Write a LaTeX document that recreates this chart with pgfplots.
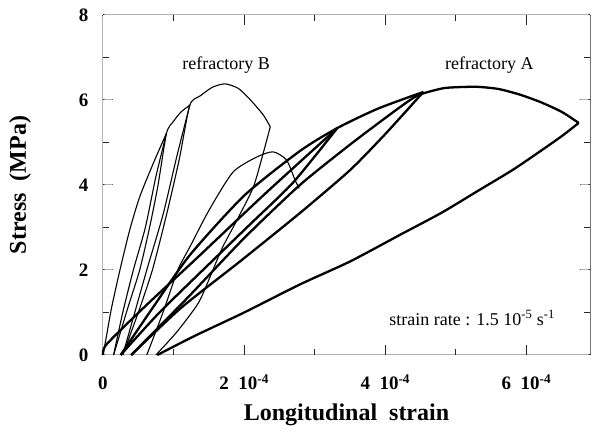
\documentclass[border=0pt]{standalone}
\usepackage{pgfplots}
\pgfplotsset{compat=1.18}
\usepackage{fontspec}
\setmainfont{Liberation Serif}
\usetikzlibrary{calc}

\begin{document}
\begin{tikzpicture}
\begin{axis}[
  scale only axis, width=487pt, height=340pt,
  xmin=0, xmax=6.9, ymin=0, ymax=8,
  xtick={0,2,4,6},
  xticklabels={0, 2\ \ 10\textsuperscript{-4}, 4\ \ 10\textsuperscript{-4}, 6\ \ 10\textsuperscript{-4}},
  ytick={0,2,4,6,8},
  yticklabels={0,2,4,6,8},
  major tick length=0pt,
  axis line style={draw=none},
  tick style={draw=none},
  ticklabel style={font=\bfseries\fontsize{19}{19}\selectfont},
  xticklabel style={anchor=base, yshift=-35pt},
  yticklabel style={anchor=east, xshift=-11pt},
  xlabel={Longitudinal\ \ strain},
  ylabel={Stress\ \ (MPa)},
  label style={font=\bfseries\fontsize{24}{24}\selectfont},
  x label style={at={(axis description cs:0.5,0)}, anchor=center, yshift=-60pt},
  y label style={at={(axis description cs:0,0.5)}, anchor=center, rotate=0, yshift=83pt},
  clip=false,
  unbounded coords=jump,
]
% ---------- frame (drawn as smooth paths) ----------
\addplot[black!85, line width=1pt, smooth] coordinates {(0,0) (3.45,0) (6.9,0)};
\addplot[black!85, line width=1pt, smooth] coordinates {(6.9,0) (6.9,4) (6.9,8)};
\addplot[black!85, line width=1pt, smooth] coordinates {(6.9,8) (3.45,8) (0,8)};
\addplot[black!85, line width=1pt, smooth] coordinates {(0,8) (0,4) (0,0)};
% ---------- ticks ----------
\addplot[black!85, line width=1pt, smooth] coordinates {
 (2,0)(2,0.12)(2,0.235) (2,nan) (4,0)(4,0.12)(4,0.235) (4,nan) (6,0)(6,0.12)(6,0.235) (6,nan)
 (1,0)(1,0.07)(1,0.141) (1,nan) (3,0)(3,0.07)(3,0.141) (3,nan) (5,0)(5,0.07)(5,0.141) (5,nan)
 (2,8)(2,7.88)(2,7.765) (2,nan) (4,8)(4,7.88)(4,7.765) (4,nan) (6,8)(6,7.88)(6,7.765) (6,nan)
 (1,8)(1,7.93)(1,7.859) (1,nan) (3,8)(3,7.93)(3,7.859) (3,nan) (5,8)(5,7.93)(5,7.859) (5,nan)
 (0,2)(0.07,2)(0.142,2) (0,nan) (0,4)(0.07,4)(0.142,4) (0,nan) (0,6)(0.07,6)(0.142,6) (0,nan)
 (0,1)(0.04,1)(0.085,1) (0,nan) (0,3)(0.04,3)(0.085,3) (0,nan) (0,5)(0.04,5)(0.085,5) (0,nan) (0,7)(0.04,7)(0.085,7) (0,nan)
 (6.9,2)(6.83,2)(6.758,2) (6.9,nan) (6.9,4)(6.83,4)(6.758,4) (6.9,nan) (6.9,6)(6.83,6)(6.758,6) (6.9,nan)
 (6.9,1)(6.86,1)(6.815,1) (6.9,nan) (6.9,3)(6.86,3)(6.815,3) (6.9,nan) (6.9,5)(6.86,5)(6.815,5) (6.9,nan) (6.9,7)(6.86,7)(6.815,7)};
% ---------- refractory B (thin) ----------
\addplot[black, line width=1.1pt, smooth, tension=0.4] coordinates {
 (0,0) (0.05,0.45) (0.12,1.1) (0.24,2.0) (0.38,2.95) (0.52,3.72) (0.71,4.5) (0.9,5.22)};
\addplot[black, line width=1.1pt, smooth, tension=0.4] coordinates {
 (0.9,5.22) (0.75,4.2) (0.6,3.0) (0.43,2.0) (0.28,1.0) (0.15,0)};
\addplot[black, line width=1.1pt, smooth, tension=0.4] coordinates {
 (0.15,0) (0.35,1.1) (0.52,2.0) (0.66,3.0) (0.78,4.0) (0.9,5.22) (1.0,5.5) (1.1,5.71) (1.23,5.88)};
\addplot[black, line width=1.1pt, smooth, tension=0.4] coordinates {
 (1.23,5.88) (1.05,4.7) (0.85,3.3) (0.62,2.0) (0.45,1.0) (0.28,0)};
\addplot[black, line width=1.1pt, smooth, tension=0.4] coordinates {
 (0.28,0) (0.5,1.0) (0.7,2.0) (0.9,3.3) (1.08,4.6) (1.23,5.88) (1.38,6.1) (1.55,6.3) (1.73,6.38) (1.92,6.27) (2.09,6.0) (2.27,5.65) (2.37,5.37)};
\addplot[black, line width=1.1pt, smooth, tension=0.4] coordinates {
 (2.37,5.37) (2.27,4.75) (2.13,3.95) (1.9,3.18) (1.69,2.52) (1.52,1.85) (1.35,1.22) (1.05,0.55) (0.75,0)};
\addplot[black, line width=1.1pt, smooth, tension=0.4] coordinates {
 (0.62,0) (0.85,1.0) (1.06,2.0) (1.23,2.54) (1.5,3.4) (1.84,4.3) (2.18,4.66) (2.41,4.78) (2.6,4.59) (2.72,4.12) (2.78,3.92)};
% ---------- refractory A (thick) ----------
\addplot[black, line width=2.3pt, smooth, tension=0.4] coordinates {
 (0,0) (0.05,0.25) (0.6,1.15) (1.33,2.28) (2.3,3.8) (3.32,5.34)};
\addplot[black, line width=2.3pt, smooth, tension=0.4] coordinates {
 (3.32,5.34) (2.7,4.07) (2.1,3.1) (1.59,2.28) (0.8,1.0) (0.25,0)};
\addplot[black, line width=2.3pt, smooth, tension=0.4] coordinates {
 (0.25,0) (0.7,1.1) (1.23,2.35) (2.0,3.75) (2.79,4.8) (3.32,5.34) (3.9,5.8) (4.54,6.19)};
\addplot[black, line width=2.3pt, smooth, tension=0.4] coordinates {
 (4.54,6.19) (4.0,5.2) (3.5,4.35) (2.79,3.34) (1.94,2.2) (1.1,1.1) (0.4,0)};
\addplot[black, line width=2.3pt, smooth, tension=0.4] coordinates {
 (0.4,0) (1.2,1.35) (2.0,2.75) (2.79,4.0) (3.5,4.95) (4.1,5.7) (4.45,6.1) (4.8,6.27) (5.0,6.3) (5.3,6.31) (5.6,6.26) (5.9,6.13) (6.2,5.95) (6.5,5.72) (6.74,5.46)};
\addplot[black, line width=2.3pt, smooth, tension=0.4] coordinates {
 (6.74,5.46) (6.5,5.15) (6.2,4.8) (5.8,4.35) (5.3,3.85) (4.8,3.35) (4.2,2.82) (3.5,2.2) (2.79,1.66) (2.0,1.0) (1.3,0.45) (0.77,0)};
% ---------- annotations ----------
\node[font=\fontsize{18}{18}\selectfont] at (axis cs:1.745,6.82) {refractory B};
\node[font=\fontsize{18}{18}\selectfont] at (axis cs:5.475,6.82) {refractory A};
\node[font=\fontsize{18}{18}\selectfont] at (axis cs:5.23,0.87) {strain rate : 1.5 10\textsuperscript{-5} s\textsuperscript{-1}};
\end{axis}
\pgfresetboundingbox
\path[use as bounding box] ($(current axis.south west)+(-103pt,-84pt)$) rectangle ($(current axis.north east)+(2pt,15pt)$);
\end{tikzpicture}
\end{document}
